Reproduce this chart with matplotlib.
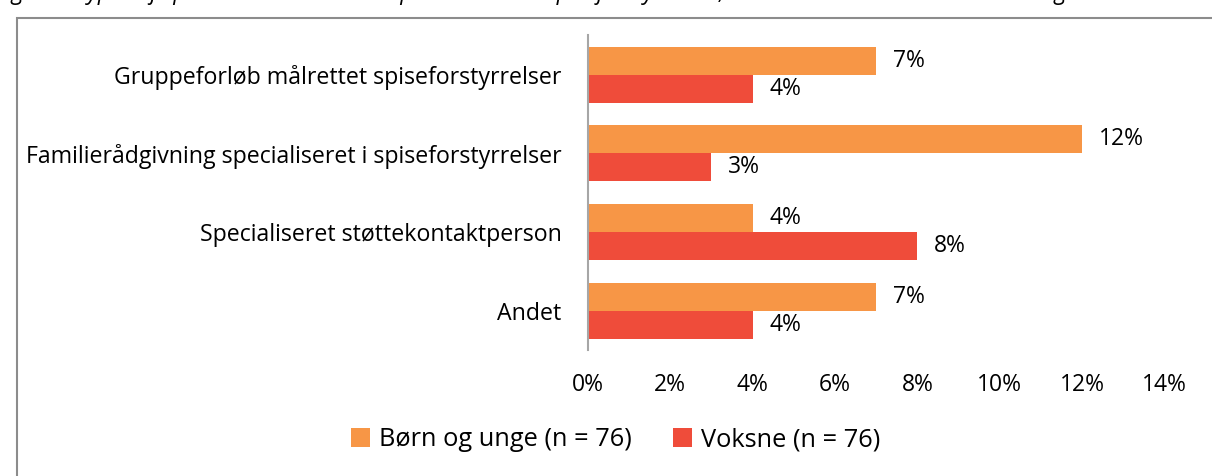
import matplotlib.pyplot as plt
from matplotlib.patches import Rectangle

# data
categories = ['Gruppeforløb målrettet spiseforstyrrelser',
              'Familierådgivning specialiseret i spiseforstyrrelser',
              'Specialiseret støttekontaktperson',
              'Andet']
born_unge = [7, 12, 4, 7]
voksne = [4, 3, 8, 4]
series_names = ['Børn og unge (n = 76)', 'Voksne (n = 76)']
xticks = [0, 2, 4, 6, 8, 10, 12, 14]

orange = '#F79646'
red = '#EF4C3A'

plt.rcParams['font.family'] = ['Open Sans', 'DejaVu Sans']

fig = plt.figure(figsize=(12.12, 4.76), dpi=100)
ax = fig.add_axes([0.485, 0.265, 0.476, 0.661])

# outer frame of the figure box (partially cut off like the source)
fig.patches.append(Rectangle((17 / 1212, -0.1), 1.2, 1 - 18 / 476 + 0.1,
                             transform=fig.transFigure, fill=False,
                             edgecolor='#8c8c8c', linewidth=1.5))
# caption cut off at the top edge
fig.text(-0.004, 1.0 + 1 / 476,
         'Figur 4: Typer af specialiserede tilbud til personer med spiseforstyrrelser, der ikke er i målrettet behandling',
         fontsize=16.5, style='italic', ha='left', va='baseline')

h = 0.356
ypos = list(range(len(categories)))
b1 = ax.barh([y - h / 2 for y in ypos], born_unge, height=h, color=orange,
             label=series_names[0])
b2 = ax.barh([y + h / 2 for y in ypos], voksne, height=h, color=red,
             label=series_names[1])

for bars, vals in ((b1, born_unge), (b2, voksne)):
    for bar, v in zip(bars, vals):
        ax.text(v + 0.4, bar.get_y() + bar.get_height() / 2, f'{v}%',
                va='center', ha='left', fontsize=16.5)

ax.set_ylim(len(categories) - 0.5, -0.5)
ax.set_xlim(0, 14)
ax.set_yticks(ypos)
ax.set_yticklabels(categories, fontsize=16.7)
ax.set_xticks(xticks)
ax.set_xticklabels([f'{t}%' for t in xticks], fontsize=16.5)
ax.tick_params(length=0)
ax.tick_params(axis='y', pad=19)
ax.tick_params(axis='x', pad=17)
for s in ('top', 'right', 'bottom'):
    ax.spines[s].set_visible(False)
ax.spines['left'].set_color('#a6a6a6')
ax.spines['left'].set_linewidth(1.5)

fig.legend(handles=[b1, b2], loc='center', bbox_to_anchor=(0.508, 0.076),
           ncol=2, frameon=False, fontsize=18.3, handlelength=0.75,
           handleheight=0.75, columnspacing=1.6, handletextpad=0.35)

fig.savefig('out.png', dpi=100)
